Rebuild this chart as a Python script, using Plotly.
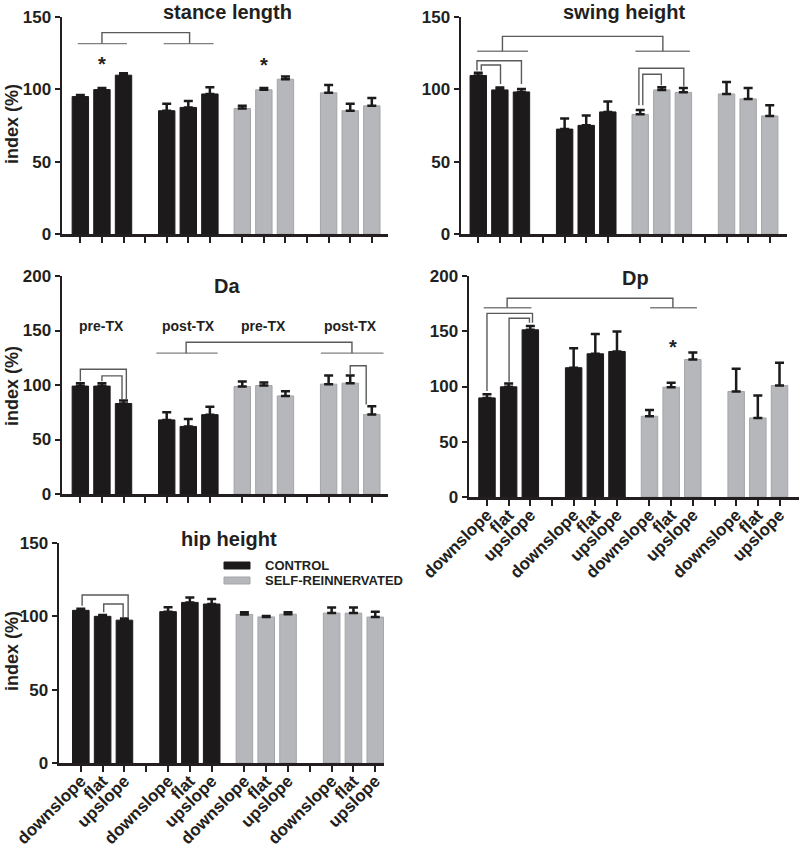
import plotly.graph_objects as go

# ---------------- data ----------------
positions = [0, 1, 2, 4, 5, 6, 7.5, 8.5, 9.5, 11.5, 12.5, 13.5]
tick_positions = [0, 1, 2, 3, 4, 5, 6, 7.5, 8.5, 9.5, 10.5, 11.5, 12.5, 13.5]
tick_labels = ["downslope", "flat", "upslope", "", "downslope", "flat", "upslope",
               "downslope", "flat", "upslope", "", "downslope", "flat", "upslope"]
groups = ["CONTROL", "SELF-REINNERVATED"]

stance_mean = [95.0, 99.8, 109.8, 85.2, 87.5, 96.8, 86.8, 99.7, 107.0, 97.6, 85.2, 88.6]
stance_top = [96.0, 101.0, 111.2, 90.0, 92.0, 101.5, 88.6, 101.0, 108.8, 103.0, 90.0, 94.0]

swing_mean = [109.6, 99.6, 98.2, 72.5, 75.1, 84.4, 82.7, 99.6, 97.9, 96.8, 93.4, 81.6]
swing_top = [111.4, 101.3, 100.2, 79.8, 81.9, 91.6, 85.8, 101.5, 101.0, 105.0, 101.0, 89.0]

da_mean = [99.0, 99.0, 83.0, 68.0, 62.0, 72.8, 98.6, 99.5, 90.0, 100.8, 101.7, 73.0]
da_top = [101.7, 101.7, 85.8, 75.1, 68.7, 80.0, 103.2, 102.3, 94.3, 108.7, 108.7, 80.5]

dp_mean = [89.7, 99.7, 151.3, 117.0, 129.6, 131.7, 73.1, 99.4, 124.5, 95.5, 71.6, 100.9]
dp_top = [93.0, 102.7, 154.7, 134.7, 147.4, 149.8, 78.8, 103.3, 130.8, 116.0, 91.8, 121.5]

hip_mean = [104.1, 100.0, 97.4, 103.2, 109.5, 108.4, 101.3, 99.6, 101.5, 102.2, 102.2, 99.5]
hip_top = [105.2, 100.9, 98.6, 106.2, 112.8, 111.8, 102.8, 100.3, 102.8, 106.0, 106.0, 103.2]

# significance brackets (polylines in data units)
stance_group_lines = [[(-0.12, 131.6), (2.16, 131.6)], [(3.86, 131.6), (6.17, 131.6)]]
stance_brackets = [[(1.0, 131.6), (1.0, 139.2), (5.06, 139.2), (5.06, 131.6)]]
stance_stars = [(1.0, 117.8), (8.5, 116.6)]

swing_group_lines = [[(-0.05, 126.3), (2.3, 126.3)], [(7.28, 126.3), (9.8, 126.3)]]
swing_brackets = [[(1.12, 126.3), (1.12, 136.6), (8.55, 136.6), (8.55, 126.3)],
                  [(-0.06, 113.0), (-0.06, 119.8), (2.0, 119.8), (2.0, 103.7)],
                  [(0.14, 113.0), (0.14, 116.8), (1.03, 116.8), (1.03, 103.7)],
                  [(7.44, 89.0), (7.44, 114.6), (9.52, 114.6), (9.52, 102.0)],
                  [(7.62, 89.0), (7.62, 110.4), (8.48, 110.4), (8.48, 102.8)]]
swing_stars = []

da_group_lines = [[(3.52, 129.2), (6.36, 129.2)], [(11.14, 129.2), (14.04, 129.2)]]
da_brackets = [[(4.9, 129.2), (4.9, 139.2), (12.58, 139.2), (12.58, 129.2)],
               [(0.0, 103.5), (0.0, 114.5), (2.13, 114.5), (2.13, 87.0)],
               [(1.0, 103.5), (1.0, 108.4), (1.93, 108.4), (1.93, 87.0)],
               [(12.5, 110.0), (12.5, 117.6), (13.24, 117.6), (13.24, 82.0)]]
da_stars = []
da_phase_labels = [(1.0, "pre-TX"), (5.0, "post-TX"), (8.5, "pre-TX"), (12.5, "post-TX")]

dp_group_lines = [[(-0.15, 171.3), (2.05, 171.3)], [(7.53, 171.3), (9.69, 171.3)]]
dp_brackets = [[(0.93, 171.3), (0.93, 179.8), (8.58, 179.8), (8.58, 171.3)],
               [(0.0, 96.0), (0.0, 166.2), (2.1, 166.2), (2.1, 157.7)],
               [(1.02, 104.2), (1.02, 161.7), (1.96, 161.7), (1.96, 157.7)]]
dp_stars = [(8.6, 136.0)]

hip_group_lines = []
hip_brackets = [[(0.06, 107.2), (0.06, 114.5), (2.17, 114.5), (2.17, 99.3)],
                [(1.05, 102.7), (1.05, 108.4), (1.94, 108.4), (1.94, 99.3)]]
hip_stars = []

# ---------------- styling ----------------
W, H = 800, 848
BLACK = "#1c1a1b"
GRAY = "#b5b7ba"
GRAY_EDGE = "#a3a5a8"
AXIS = "#231f20"
FONT = "Liberation Sans, Arial, sans-serif"


def fx(px):
    return px / W


def fy(py):
    return 1 - py / H


panels = [
    dict(title="stance length", mean=stance_mean, top=stance_top, ymax=150,
         xdom=(62, 388), ydom=(17, 234), xr=(-0.85, 14.25), labels=False, ytitle=True,
         title_xy=(227, 12), ytitle_y=124,
         glines=stance_group_lines, brk=stance_brackets, stars=stance_stars),
    dict(title="swing height", mean=swing_mean, top=swing_top, ymax=150,
         xdom=(461, 787), ydom=(17, 234), xr=(-0.8, 14.3), labels=False, ytitle=False,
         title_xy=(624, 12), ytitle_y=None,
         glines=swing_group_lines, brk=swing_brackets, stars=swing_stars),
    dict(title="Da", mean=da_mean, top=da_top, ymax=200,
         xdom=(62, 388), ydom=(276, 494), xr=(-0.85, 14.25), labels=False, ytitle=True,
         title_xy=(227, 286), ytitle_y=386,
         glines=da_group_lines, brk=da_brackets, stars=da_stars),
    dict(title="Dp", mean=dp_mean, top=dp_top, ymax=200,
         xdom=(469, 799), ydom=(276, 497), xr=(-0.83, 14.4), labels=True, ytitle=False,
         title_xy=(635, 278), ytitle_y=None,
         glines=dp_group_lines, brk=dp_brackets, stars=dp_stars),
    dict(title="hip height", mean=hip_mean, top=hip_top, ymax=150,
         xdom=(59, 384), ydom=(543, 763), xr=(-1.0, 13.9), labels=True, ytitle=True,
         title_xy=(229, 539), ytitle_y=651,
         glines=hip_group_lines, brk=hip_brackets, stars=hip_stars),
]

fig = go.Figure()
annotations = []
shapes = []
layout = {}

for i, p in enumerate(panels, start=1):
    xa = "x" if i == 1 else f"x{i}"
    ya = "y" if i == 1 else f"y{i}"
    errs = [t - m for m, t in zip(p["mean"], p["top"])]
    for g, (sl, col, edge) in enumerate([(slice(0, 6), BLACK, BLACK), (slice(6, 12), GRAY, GRAY_EDGE)]):
        fig.add_trace(go.Bar(
            x=positions[sl], y=p["mean"][sl], width=0.76,
            marker=dict(color=col, line=dict(color=edge, width=1)),
            error_y=dict(type="data", symmetric=False, array=errs[sl],
                         arrayminus=[0] * 6, color=BLACK, thickness=2.5, width=4.5),
            name=groups[g], showlegend=False, xaxis=xa, yaxis=ya, hoverinfo="skip"))
    for line in p["glines"]:
        fig.add_trace(go.Scatter(x=[a for a, b in line], y=[b for a, b in line], mode="lines",
                                 line=dict(color="#808080", width=1.4), showlegend=False,
                                 xaxis=xa, yaxis=ya, hoverinfo="skip"))
    for line in p["brk"]:
        fig.add_trace(go.Scatter(x=[a for a, b in line], y=[b for a, b in line], mode="lines",
                                 line=dict(color="#5a5a5a", width=1.4), showlegend=False,
                                 xaxis=xa, yaxis=ya, hoverinfo="skip"))
    for sx, sy in p["stars"]:
        annotations.append(dict(x=sx, y=sy, xref=xa, yref=ya, text="*", showarrow=False,
                                font=dict(family=FONT, size=20, color=AXIS, weight="bold")))

    xk = "xaxis" if i == 1 else f"xaxis{i}"
    yk = "yaxis" if i == 1 else f"yaxis{i}"
    layout[xk] = dict(domain=[fx(p["xdom"][0]), fx(p["xdom"][1])], range=list(p["xr"]),
                      anchor=ya, showline=True, linecolor=AXIS, linewidth=2.5,
                      ticks="outside", ticklen=6, tickwidth=2, tickcolor=AXIS,
                      tickvals=tick_positions, ticktext=tick_labels,
                      showticklabels=p["labels"], tickangle=-45, automargin=False,
                      ticklabeloverflow="allow", ticklabelstandoff=-7,
                      tickfont=dict(family=FONT, size=17, color=AXIS, weight="bold"),
                      showgrid=False, zeroline=False, fixedrange=True)
    layout[yk] = dict(domain=[fy(p["ydom"][1]), fy(p["ydom"][0])], range=[0, p["ymax"]],
                      anchor=xa, showline=True, linecolor=AXIS, linewidth=2.5,
                      ticks="outside", ticklen=5, tickwidth=2, tickcolor=AXIS,
                      tickvals=list(range(0, p["ymax"] + 1, 50)), automargin=False,
                      ticklabeloverflow="allow",
                      tickfont=dict(family=FONT, size=17, color=AXIS, weight="bold"),
                      showgrid=False, zeroline=False, fixedrange=True)
    tx, ty = p["title_xy"]
    annotations.append(dict(x=fx(tx), y=fy(ty), xref="paper", yref="paper", text=p["title"],
                            showarrow=False, xanchor="center", yanchor="middle",
                            font=dict(family=FONT, size=20, color=AXIS, weight="bold")))
    if p["ytitle"]:
        annotations.append(dict(x=fx(12), y=fy(p["ytitle_y"]), xref="paper", yref="paper",
                                text="index (%)", textangle=-90, showarrow=False,
                                xanchor="center", yanchor="middle",
                                font=dict(family=FONT, size=18, color=AXIS, weight="bold")))

for px, lab in da_phase_labels:
    annotations.append(dict(x=px, y=154, xref="x3", yref="y3", text=lab, showarrow=False,
                            font=dict(family=FONT, size=14, color=AXIS, weight="bold")))

# legend (in hip height panel)
for k, (g, col, edge) in enumerate([(groups[0], BLACK, BLACK), (groups[1], GRAY, GRAY_EDGE)]):
    yc = 565.5 + 15 * k
    shapes.append(dict(type="rect", xref="paper", yref="paper",
                       x0=fx(224), x1=fx(250), y0=fy(yc + 3.5), y1=fy(yc - 3.5),
                       fillcolor=col, line=dict(color=edge, width=1)))
    annotations.append(dict(x=fx(263), y=fy(yc), xref="paper", yref="paper", text=g,
                            showarrow=False, xanchor="left", yanchor="middle",
                            font=dict(family=FONT, size=13, color=AXIS, weight="bold")))

fig.update_layout(width=W, height=H, margin=dict(l=0, r=0, t=0, b=0, pad=0, autoexpand=False),
                  autosize=False,
                  paper_bgcolor="white", plot_bgcolor="white", barmode="overlay",
                  showlegend=False, annotations=annotations, shapes=shapes, **layout)

fig.write_html("out.html", config={"displayModeBar": False, "staticPlot": True},
               post_script="document.body.style.margin='0px';document.body.style.overflow='hidden';")
